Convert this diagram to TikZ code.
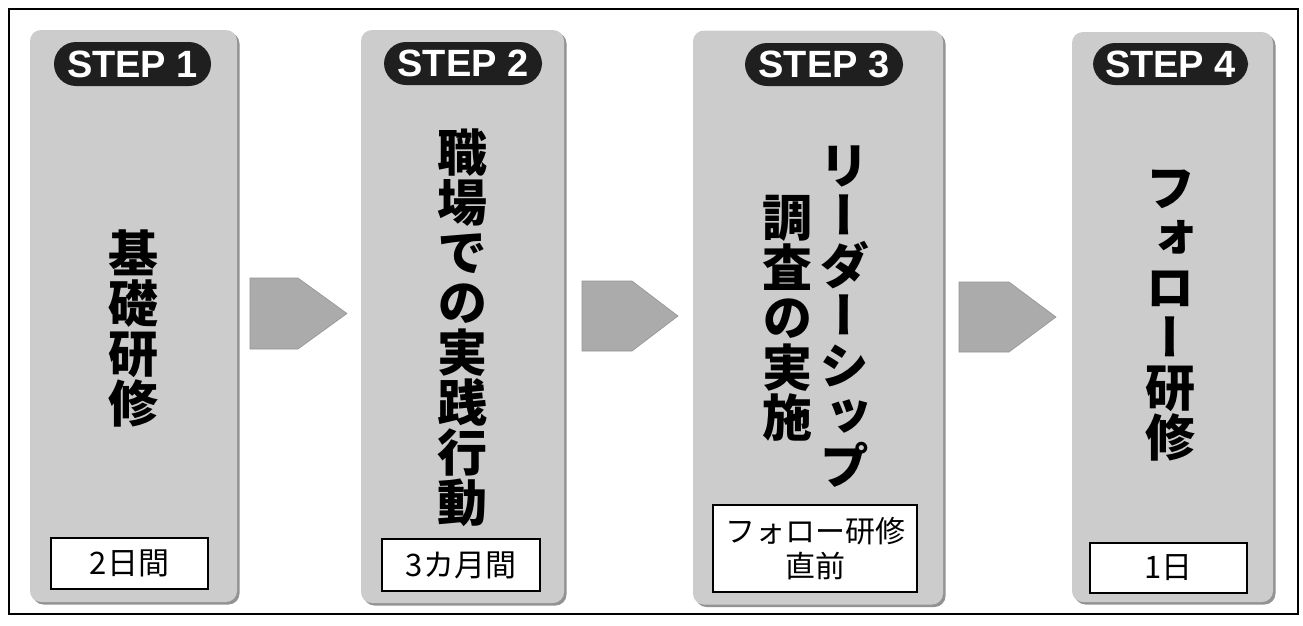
\documentclass[tikz,border=0pt]{standalone}
\usepackage{fontspec}
\usetikzlibrary{shadows}
\setmainfont{Liberation Sans}
\newfontfamily\jp{Noto Sans CJK JP}
\newfontfamily\jpv[RawFeature=+vert]{Noto Sans CJK JP}
\begin{document}
\begin{tikzpicture}[x=1pt,y=-1pt,
  panel/.style={fill=black!20, draw=none, rounded corners=11pt, inner sep=0pt,
    drop shadow={shadow xshift=2.5pt, shadow yshift=-2.5pt, opacity=0.7, fill=black!60}},
  badge/.style={fill=black!88, rounded corners=22pt, inner sep=0pt, text=white,
    font=\bfseries\fontsize{38}{38}\selectfont},
  lbl/.style={fill=white, draw=black, line width=1.8pt, inner sep=0pt,
    font=\jp\fontsize{31}{36}\selectfont, align=center},
  vtext/.style={font=\jpv\bfseries\fontsize{50}{50}\selectfont, align=center, inner sep=0pt},
  arrowfill/.style={fill=black!33, draw=black!42, line width=0.6pt}]
\useasboundingbox (0,0) rectangle (1303,625);
\fill[white] (0,0) rectangle (1303,625);
\draw[line width=2pt] (9,9) rectangle (1298,614);

% panels
\node[panel, minimum width=207pt, minimum height=572pt] (p1) at (133.5,316) {};
\node[panel, minimum width=203pt, minimum height=573pt] (p2) at (462.5,316.5) {};
\node[panel, minimum width=250pt, minimum height=574pt] (p3) at (818,317.5) {};
\node[panel, minimum width=201pt, minimum height=570pt] (p4) at (1172.5,317) {};

% badges
\node[badge, minimum width=157pt, minimum height=44pt] (b1) at (132.5,64) {STEP 1};
\node[badge, minimum width=158pt, minimum height=43pt] (b2) at (463,63.5) {STEP 2};
\node[badge, minimum width=158pt, minimum height=43pt] (b3) at (824,64.5) {STEP 3};
\node[badge, minimum width=155pt, minimum height=42pt] (b4) at (1170.5,64) {STEP 4};

% main vertical texts
\node[vtext] (t1) at (133,328) {基\\礎\\研\\修};
\node[vtext] (t2) at (462,328) {職\\場\\で\\の\\実\\践\\行\\動};
\node[vtext] (t3a) at (844,317) {リ\\ー\\ダ\\ー\\シ\\ッ\\プ};
\node[vtext] (t3b) at (787,318) {調\\査\\の\\実\\施};
\node[vtext] (t4) at (1170,316) {フ\\ォ\\ロ\\ー\\研\\修};

% bottom labels
\node[lbl, minimum width=157pt, minimum height=51pt] (l1) at (129.5,563.5) {2日間};
\node[lbl, minimum width=158pt, minimum height=52pt] (l2) at (461,565) {3カ月間};
\node[lbl, minimum width=204pt, minimum height=87pt, font=\jp\fontsize{30}{35}\selectfont] (l3) at (815,548.5) {フォロー研修\\直前};
\node[lbl, minimum width=157pt, minimum height=50pt] (l4) at (1168.5,568) {1日};

% arrows
\fill[arrowfill] (250,278) -- (298,278) -- (347,313.5) -- (298,349) -- (250,349) -- cycle;
\fill[arrowfill] (582,281) -- (632,281) -- (678,316) -- (632,351) -- (582,351) -- cycle;
\fill[arrowfill] (959,282) -- (1009,282) -- (1056,317) -- (1009,352) -- (959,352) -- cycle;
\end{tikzpicture}
\end{document}
